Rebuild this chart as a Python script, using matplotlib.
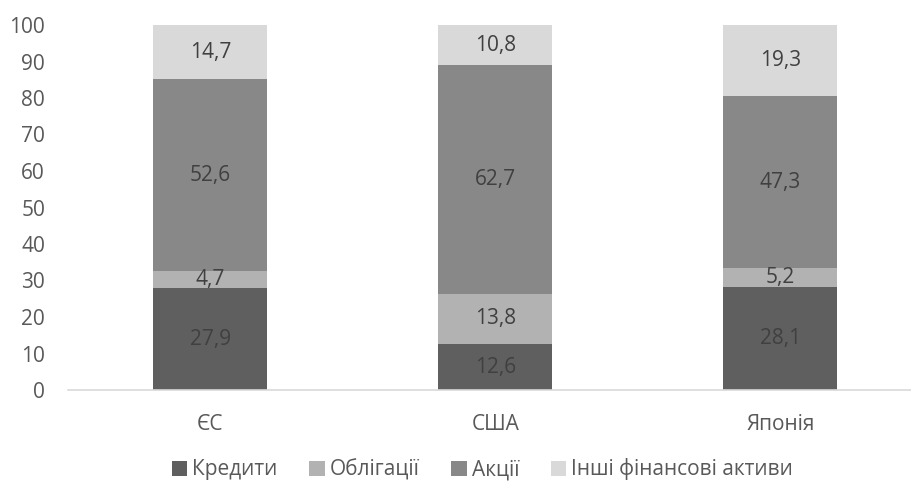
import numpy as np
import matplotlib.pyplot as plt

plt.rcParams['font.family'] = ['Open Sans', 'DejaVu Sans']

countries = ['ЄС', 'США', 'Японія']
series = ['Кредити', 'Облігації', 'Акції', 'Інші фінансові активи']
credits = [27.9, 12.6, 28.1]
bonds = [4.7, 13.8, 5.2]
stocks = [52.6, 62.7, 47.3]
other = [14.7, 10.8, 19.3]
colors = ['#5f5f5f', '#b2b2b2', '#888888', '#d9d9d9']
txt_color = '#404040'

fig = plt.figure(figsize=(9.12, 4.84), dpi=100)
# axes run past the right edge so the three slots are equally wide
ax = fig.add_axes([68 / 912, (484 - 390) / 484, 855 / 912, 365 / 484])

x = np.arange(len(countries))
bottom = np.zeros(len(countries))
for name, vals, col in zip(series, [credits, bonds, stocks, other], colors):
    vals = np.array(vals)
    ax.bar(x, vals, 0.4, bottom=bottom, color=col, label=name)
    for xi, b, v in zip(x, bottom, vals):
        ax.text(xi, b + v / 2, f'{v:.1f}'.replace('.', ','), ha='center', va='center',
                fontsize=15, color=txt_color)
    bottom += vals

ax.set_xlim(-0.5, 2.5)
ax.set_ylim(0, 100)
ax.set_yticks(range(0, 101, 10))
ax.set_xticks(x)
ax.set_xticklabels(countries)
ax.tick_params(axis='both', length=0, labelsize=15, labelcolor='#595959')
ax.tick_params(axis='y', pad=16.5)
ax.tick_params(axis='x', pad=17)
for s in ['top', 'right', 'left']:
    ax.spines[s].set_visible(False)
ax.spines['bottom'].set_color('#d9d9d9')
ax.spines['bottom'].set_linewidth(1.2)

leg = fig.legend(loc='center', bbox_to_anchor=(0.529, 0.03), ncol=4, frameon=False,
                 fontsize=15, handlelength=0.75, handleheight=0.75, handletextpad=0.25,
                 columnspacing=1.5, borderpad=0)
for t in leg.get_texts():
    t.set_color('#595959')

plt.savefig('out.png', dpi=100)
